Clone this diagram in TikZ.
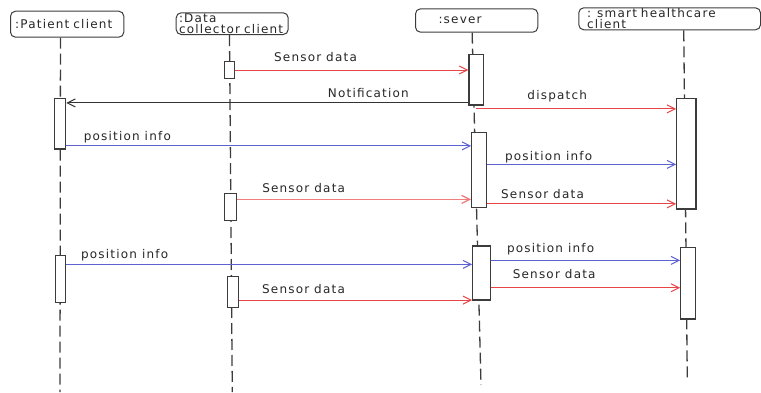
\documentclass[tikz,border=0pt]{standalone}
\usepackage{fontspec}
\newfontfamily\seqfont{DejaVu Sans}[LetterSpace=10]
\usetikzlibrary{arrows.meta}
\usetikzlibrary{positioning}
\usetikzlibrary{calc}

\definecolor{msgred}{RGB}{232,70,70}
\definecolor{msgpink}{RGB}{240,125,125}
\definecolor{msgblue}{RGB}{92,98,208}
\definecolor{linegray}{RGB}{60,60,60}

\begin{document}
\begin{tikzpicture}[
                x=1pt, y=-1pt,
                >={Straight Barb[length=8pt,width=8pt]},
                header/.style={draw=linegray, line width=1pt, rounded corners=5pt, anchor=north west,
                    align=left, inner ysep=1pt, font=\seqfont\fontsize{12}{10.7}\selectfont, text=black!85},
                act/.style={draw=linegray, line width=1.2pt, fill=white, inner sep=0pt},
                lifeline/.style={draw=linegray, line width=1.3pt, dash pattern=on 11pt off 5pt},
                lbl/.style={anchor=base west, inner sep=0pt, font=\seqfont\fontsize{12}{13}\selectfont, text=black!85},
                sensor/.style={->, draw=msgred, line width=1pt},
                posinfo/.style={->, draw=msgblue, line width=1pt},
                reply/.style={->, draw=black!80, line width=1pt}
            ]
            \useasboundingbox (0,0) rectangle (761,392);

            % Define lifeline heads
            \node[header, inner xsep=4.7pt, text width=103.9pt, minimum height=26pt] (patient) at (10,10.7) {:Patient client};
            \node[header, inner xsep=2.8pt, text width=106.4pt, minimum height=21.7pt] (collector) at (175.7,12.3) {:Data\\collector client};
            \node[header, inner xsep=23pt, text width=76.3pt, minimum height=23.4pt] (server) at (415,8.3) {:sever};
            \node[header, inner xsep=8.4pt, text width=164.9pt, minimum height=22pt] (smart) at (578.3,7.3) {: smart healthcare\\client};

            % Lifelines
            \coordinate (patend) at (60,392);
            \coordinate (colend) at (232.3,392);
            \coordinate (srvend) at (481,385);
            \coordinate (smaend) at (687.3,380);
            \draw[lifeline] ([xshift=-6.7pt]patient.south) -- (patend);
            \draw[lifeline] ([xshift=-2.7pt]collector.south) -- (colend);
            \draw[lifeline] ([xshift=-4.5pt]server.south) -- (srvend);
            \draw[lifeline] ([xshift=14.1pt]smart.south) -- (smaend);

            % Activation boxes
            \node[act, minimum width=10pt, minimum height=16.6pt] (col1) at (229.3,70) {};
            \node[act, minimum width=14.7pt, minimum height=50.7pt] (srv1) at (476.35,79.65) {};
            \node[act, minimum width=11.4pt, minimum height=50.7pt] (pat1) at (60,123.65) {};
            \node[act, minimum width=19.3pt, minimum height=110.7pt] (sma1) at (686.35,153.65) {};
            \node[act, minimum width=14.6pt, minimum height=75pt] (srv2) at (479,169.8) {};
            \node[act, minimum width=12.4pt, minimum height=27.4pt] (col2) at (230.5,207) {};
            \node[act, minimum width=17.6pt, minimum height=54pt] (srv3) at (481.5,273) {};
            \node[act, minimum width=14.6pt, minimum height=71.7pt] (sma2) at (688,283.15) {};
            \node[act, minimum width=10pt, minimum height=46.6pt] (pat2) at (60.7,279) {};
            \node[act, minimum width=11pt, minimum height=30.6pt] (col3) at (232.8,292) {};

            % Messages
            \draw[sensor] (col1.east) -- (col1.east -| srv1.west)
                node[lbl, pos=0, xshift=38.7pt, yshift=8.3pt] {Sensor data};
            \draw[reply] ($(srv1.south west)+(0,-2.7)$) coordinate (notif) -- (notif -| pat1.east)
                node[lbl, pos=0, xshift=-141pt, yshift=5.8pt] {Notification};
            \draw[sensor] ($(srv1.south)+(0,3.3)$) coordinate (disp) -- (disp -| sma1.west)
                node[lbl, pos=0, xshift=50.6pt, yshift=9pt] {dispatch};
            \draw[posinfo] ($(pat1.south east)+(0,-3.7)$) coordinate (pos1) -- (pos1 -| srv2.west)
                node[lbl, pos=0, xshift=17pt, yshift=5.6pt] {position info};
            \draw[posinfo] ($(srv2.north east)+(0,32.7)$) coordinate (pos2) -- (pos2 -| sma1.west)
                node[lbl, pos=0, xshift=17.7pt, yshift=4.3pt] {position info};
            \draw[sensor, draw=msgpink, line width=1.3pt] ($(col2.north east)+(0,6.7)$) coordinate (sen2) -- (sen2 -| srv2.west)
                node[lbl, pos=0, xshift=24.3pt, yshift=7.3pt] {Sensor data};
            \draw[sensor] ($(srv2.south east)+(0,-4)$) coordinate (sen3) -- (sen3 -| sma1.west)
                node[lbl, pos=0, xshift=13.7pt, yshift=5.6pt] {Sensor data};
            \draw[posinfo] ($(pat2.north east)+(0,9.3)$) coordinate (pos3) -- (pos3 -| srv3.west)
                node[lbl, pos=0, xshift=14.3pt, yshift=5.7pt] {position info};
            \draw[posinfo] ($(srv3.north east)+(0,15)$) coordinate (pos4) -- (pos4 -| sma2.west)
                node[lbl, pos=0, xshift=15.7pt, yshift=8.3pt] {position info};
            \draw[sensor] ($(srv3.north east)+(0,42.3)$) coordinate (sen4) -- (sen4 -| sma2.west)
                node[lbl, pos=0, xshift=21.4pt, yshift=9pt] {Sensor data};
            \draw[sensor] ($(col3.north east)+(0,24)$) coordinate (sen5) -- (sen5 -| srv3.west)
                node[lbl, pos=0, xshift=22.7pt, yshift=6.4pt] {Sensor data};

        \end{tikzpicture}
\end{document}
